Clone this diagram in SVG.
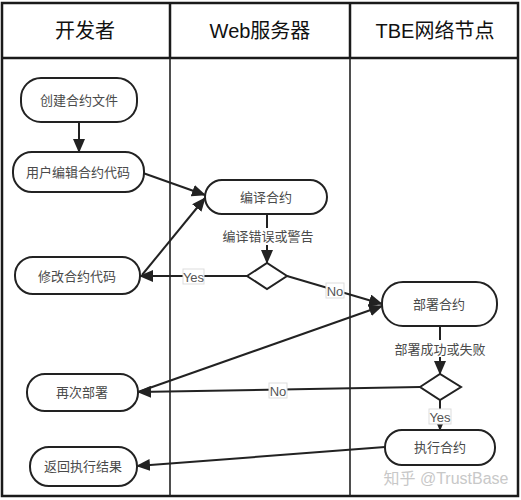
<svg xmlns="http://www.w3.org/2000/svg" width="521" height="500" viewBox="0 0 521 500">
<style>
.frame{fill:none;stroke:#1a1a1a;stroke-width:2.5}
.lane{fill:none;stroke:#222;stroke-width:1.6}
.hdr{font-family:"Liberation Sans","Noto Sans CJK SC",sans-serif;font-size:20px;fill:#111;text-anchor:middle}
.node rect,.node polygon{fill:#fff;stroke:#222;stroke-width:2}
.node text,.lbl{font-family:"Liberation Sans","Noto Sans CJK SC",sans-serif;font-size:13px;fill:#4a4a4a;text-anchor:middle;dominant-baseline:central}
.edge{fill:none;stroke:#222;stroke-width:2;marker-end:url(#arr)}
.tag rect{fill:#fff;stroke:#ddd;stroke-width:1}
.tag text{font-family:"Liberation Sans",sans-serif;font-size:13px;fill:#555;text-anchor:middle;dominant-baseline:central}
</style>
<defs>
<marker id="arr" markerUnits="userSpaceOnUse" markerWidth="14" markerHeight="12" refX="13" refY="6" orient="auto">
<path d="M0,0 L14,6 L0,12 Z" fill="#222"/>
</marker>
</defs>
<rect x="0" y="0" width="521" height="500" fill="#fff"/>
<g id="lanes">
<rect class="frame" x="2" y="3" width="516" height="493"/>
<line class="frame" x1="2" y1="58" x2="518" y2="58"/>
<line class="frame" x1="170" y1="3" x2="170" y2="58"/>
<line class="frame" x1="350" y1="3" x2="350" y2="58"/>
<line class="lane" x1="170" y1="58" x2="170" y2="496"/>
<line class="lane" x1="350" y1="58" x2="350" y2="496"/>
<text class="hdr" x="85" y="38">开发者</text>
<text class="hdr" x="260" y="38">Web服务器</text>
<text class="hdr" x="435" y="38">TBE网络节点</text>
</g>
<g id="connectors">
<line class="edge" x1="79" y1="122" x2="79" y2="152"/>
<line class="edge" x1="143" y1="173" x2="205" y2="195"/>
<line class="edge" x1="142" y1="275" x2="205" y2="198"/>
<line class="edge" x1="267" y1="214" x2="267" y2="263"/>
<line class="edge" x1="247" y1="276" x2="140" y2="276"/>
<line class="edge" x1="287" y1="276" x2="382" y2="304"/>
<line class="edge" x1="138" y1="392" x2="382" y2="306"/>
<line class="edge" x1="440" y1="326" x2="440" y2="374"/>
<line class="edge" x1="420" y1="387" x2="138" y2="392"/>
<line class="edge" x1="440" y1="400" x2="440" y2="430"/>
<line class="edge" x1="385" y1="447" x2="137" y2="466"/>
<rect x="224" y="228" width="88" height="17" fill="#fff"/>
<text class="lbl" x="268" y="236">编译错误或警告</text>
<rect x="396" y="340" width="88" height="17" fill="#fff"/>
<text class="lbl" x="440" y="349">部署成功或失败</text>
<g class="tag"><rect x="183" y="269" width="21" height="15"/><text x="193.5" y="277">Yes</text></g>
<g class="tag"><rect x="326" y="283" width="18" height="15"/><text x="335" y="291">No</text></g>
<g class="tag"><rect x="269" y="383" width="18" height="15"/><text x="278" y="391">No</text></g>
<g class="tag"><rect x="429" y="409" width="22" height="15"/><text x="440" y="417">Yes</text></g>
</g>
<g id="n1" class="node"><rect x="21" y="78" width="116" height="44" rx="20"/><text x="79" y="100">创建合约文件</text></g>
<g id="n2" class="node"><rect x="13" y="152" width="131" height="40" rx="19"/><text x="78" y="172">用户编辑合约代码</text></g>
<g id="n3" class="node"><rect x="205" y="180" width="122" height="34" rx="17"/><text x="266" y="197">编译合约</text></g>
<g id="d1" class="node"><polygon points="247,276 267,263 287,276 267,289"/></g>
<g id="n4" class="node"><rect x="15" y="257" width="125" height="37" rx="18"/><text x="77" y="276">修改合约代码</text></g>
<g id="n5" class="node"><rect x="382" y="282" width="115" height="44" rx="21"/><text x="439" y="304">部署合约</text></g>
<g id="d2" class="node"><polygon points="420,387 440,374 461,387 440,400"/></g>
<g id="n6" class="node"><rect x="385" y="430" width="110" height="35" rx="17"/><text x="440" y="447">执行合约</text></g>
<g id="n7" class="node"><rect x="27" y="374" width="111" height="37" rx="18"/><text x="82" y="392">再次部署</text></g>
<g id="n8" class="node"><rect x="30" y="447" width="107" height="39" rx="19"/><text x="83" y="466">返回执行结果</text></g>
<text x="446" y="484" font-family="Liberation Sans,'Noto Sans CJK SC',sans-serif" font-size="16" fill="#c8c8c8" text-anchor="middle">知乎 @TrustBase</text>
</svg>
